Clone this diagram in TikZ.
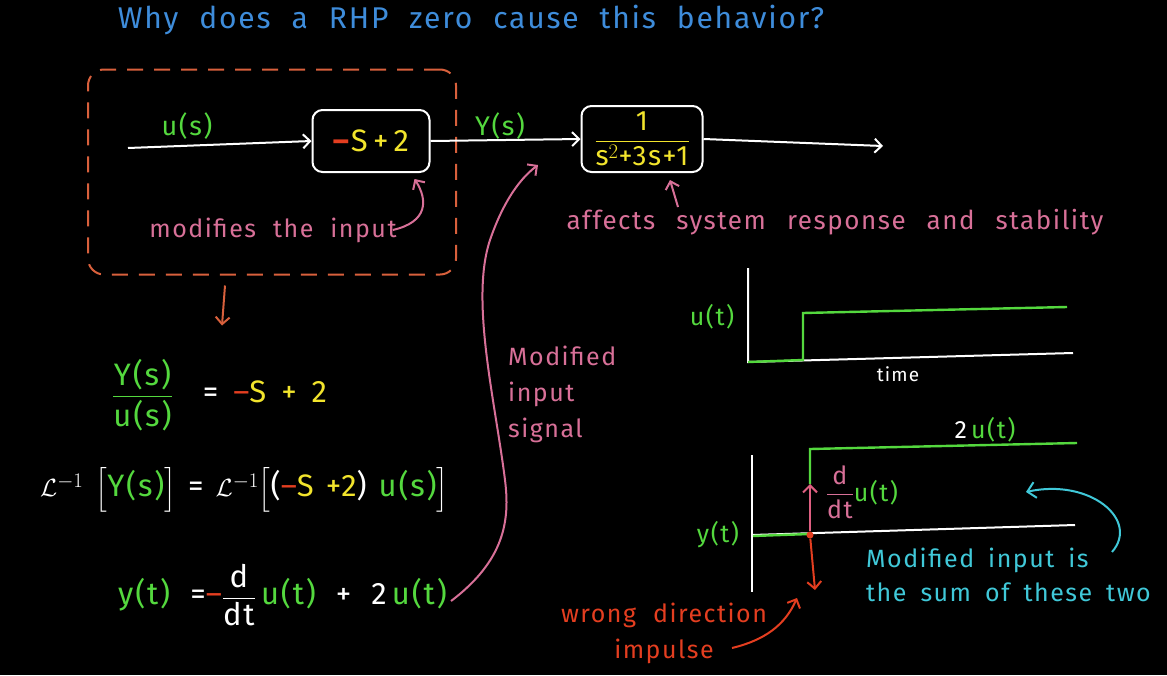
\documentclass[tikz,border=0pt]{standalone}
\usepackage{amsmath}
\usepackage{xcolor}
\usepackage{fontspec}
\setmainfont{Fira Sans}[LetterSpace=6]
\usetikzlibrary{arrows.meta,positioning}
\definecolor{titleblue}{RGB}{62,140,218}
\definecolor{grn}{RGB}{84,216,62}
\definecolor{yel}{RGB}{242,228,44}
\definecolor{redo}{RGB}{228,62,32}
\definecolor{pnk}{RGB}{216,112,152}
\definecolor{cyn}{RGB}{64,200,216}
\definecolor{orng}{RGB}{216,96,60}
\newcommand\wordgap[1]{\spaceskip=#1pt\relax}

\begin{document}
\begin{tikzpicture}[
  x=1pt, y=-1pt,
  every node/.style={font=\fontsize{25}{36}\selectfont\wordgap{17}, inner sep=2pt},
  eqn/.style={anchor=west, text=white, font=\fontsize{31}{36}\selectfont\wordgap{12}},
  block/.style={draw=white, line width=2pt, rounded corners=10pt, minimum height=62pt, align=center, text=yel},
  frame/.style={draw=orng, line width=2pt, dash pattern=on 16pt off 11pt, rounded corners=16pt},
  axis/.style={white, line width=2pt},
  sig/.style={grn, line width=2.4pt},
  arrow/.style={-{Straight Barb[length=7pt,width=14pt]}, line width=2pt, white},
  parrow/.style={-{Straight Barb[length=7pt,width=14pt]}, line width=2pt, pnk},
  rarrow/.style={-{Straight Barb[length=7pt,width=14pt]}, line width=2pt, redo},
  carrow/.style={-{Straight Barb[length=8pt,width=16pt]}, line width=2pt, cyn},
  oarrow/.style={-{Straight Barb[length=7pt,width=14pt]}, line width=2pt, orng}
]
\fill[black] (0,0) rectangle (1167,675);
\useasboundingbox (0,0) rectangle (1167,675);

\node[text=titleblue, font=\fontsize{30}{34}\selectfont\wordgap{21}] (title) at (471,20) {Why does a RHP zero cause this behavior?};

\node[frame, minimum width=368pt, minimum height=205pt] (mod) at (272,172) {};
\node[block, minimum width=117pt, font=\fontsize{31}{36}\selectfont] (zero) at (371,141) {\textcolor{redo}{\textbf{--}}S\,+\,2};
\node[block, minimum width=121pt, minimum height=66pt, font=\fontsize{28}{32}\selectfont, inner sep=1pt] (plant) at (642,139) {$\dfrac{\text{1}}{\text{s}^2\text{+3s+1}}$};
\coordinate (in) at (128,148);
\coordinate (out) at (883,146);
\node[text=grn, font=\fontsize{27}{32}\selectfont] (us) at (187,126) {u(s)};
\node[text=grn, font=\fontsize{27}{32}\selectfont] (ys) at (500,126) {Y(s)};

\draw[arrow] (in) -- (zero.west);
\draw[arrow] (zero.east) -- (plant.west);
\draw[arrow] (plant.east) -- (out);

\node[text=pnk] (modtxt) at (273,230) {modifies the input};
\draw[parrow] ([xshift=-6pt]modtxt.east) .. controls (428,222) and (428,200) .. ([xshift=-16pt,yshift=-6pt]zero.south east);
\node[text=pnk, font=\fontsize{26}{36}\selectfont\wordgap{21}] (afftxt) at (835,222) {affects system response and stability};
\draw[parrow] ([xshift=36pt,yshift=-34pt]plant.south) -- ([xshift=28pt,yshift=-7pt]plant.south);
\draw[oarrow] ([xshift=-47pt,yshift=-10pt]mod.south) -- ([xshift=-50pt,yshift=-50pt]mod.south);

\node[eqn, font=\fontsize{31}{36}\selectfont\wordgap{15}] (tf) at (110,395) {{\color{grn}$\dfrac{\text{Y(s)}}{\text{u(s)}}$} \ = \textcolor{redo}{--}\textcolor{yel}{S + 2}};
\node[eqn] (lap) at (38,490) {$\mathcal{L}^{-1}$ $\Big[$\textcolor{grn}{Y(s)}$\Big]$ = $\mathcal{L}^{-1}\Big[$(\textcolor{redo}{--}\textcolor{yel}{S +2}) \textcolor{grn}{u(s)}$\Big]$};
\node[eqn, font=\fontsize{31}{36}\selectfont\wordgap{20}] (yt) at (116,595) {\textcolor{grn}{y(t)} =\textcolor{redo}{--}$\dfrac{\text{d}}{\text{dt}}$\,\textcolor{grn}{u(t)} + 2\,\textcolor{grn}{u(t)}};

\coordinate (ysig) at (538,165);
\draw[parrow] ([xshift=2pt,yshift=-6pt]yt.east) .. controls (505,560) and (510,520) .. (505,480) .. controls (495,400) and (470,300) .. (490,240) .. controls (502,205) and (518,180) .. (ysig);
\node[text=pnk, align=left, anchor=north west] (sigtxt) at (506,344) {Modified\\input\\signal};

\draw[axis] (748,268) -- (748,362) -- (1073,353);
\draw[sig] (748,362) -- (803,360) -- (803,313) -- (1067,307);
\node[text=grn] (ut) at (712,317) {u(t)};
\node[text=white, font=\fontsize{19}{22}\selectfont] (time) at (898,374) {time};

\draw[axis] (752,455) -- (752,592);
\draw[axis] (752,535) -- (1075,525);
\draw[sig] (753,536) -- (810,534);
\draw[sig] (810,484) -- (810,449) -- (1077,443);
\node[circle, fill=redo, inner sep=2.5pt] (jump) at (810,535) {};
\coordinate (jtop) at (810,484);
\coordinate (jbot) at (815,590);
\draw[-{Straight Barb[length=7pt,width=14pt]}, line width=2pt, pnk!85!red] (jump) -- (jtop);
\draw[rarrow] (jump) -- (jbot);
\node[text=grn] (yt2) at (718,535) {y(t)};
\node (twou) at (985,430) {\textcolor{white}{2}\,\textcolor{grn}{u(t)}};
\node (ddt) at (862,492) {\textcolor{pnk}{$\dfrac{\text{d}}{\text{dt}}$}\textcolor{grn}{u(t)}};

\node[text=cyn, align=left, anchor=north west, font=\fontsize{25}{34}\selectfont\wordgap{14}] (sumtxt) at (864,546) {Modified input is\\the sum of these two};
\coordinate (cstart) at (1112,552);
\coordinate (cend) at (1026,492);
\draw[carrow] (cstart) .. controls (1140,520) and (1090,478) .. (cend);

\node[text=redo, align=center] (wrong) at (664,633) {wrong direction\\impulse};
\coordinate (wstart) at (732,648);
\coordinate (wend) at (797,598);
\draw[rarrow] (wstart) .. controls (765,640) and (785,625) .. (wend);
\end{tikzpicture}
\end{document}
